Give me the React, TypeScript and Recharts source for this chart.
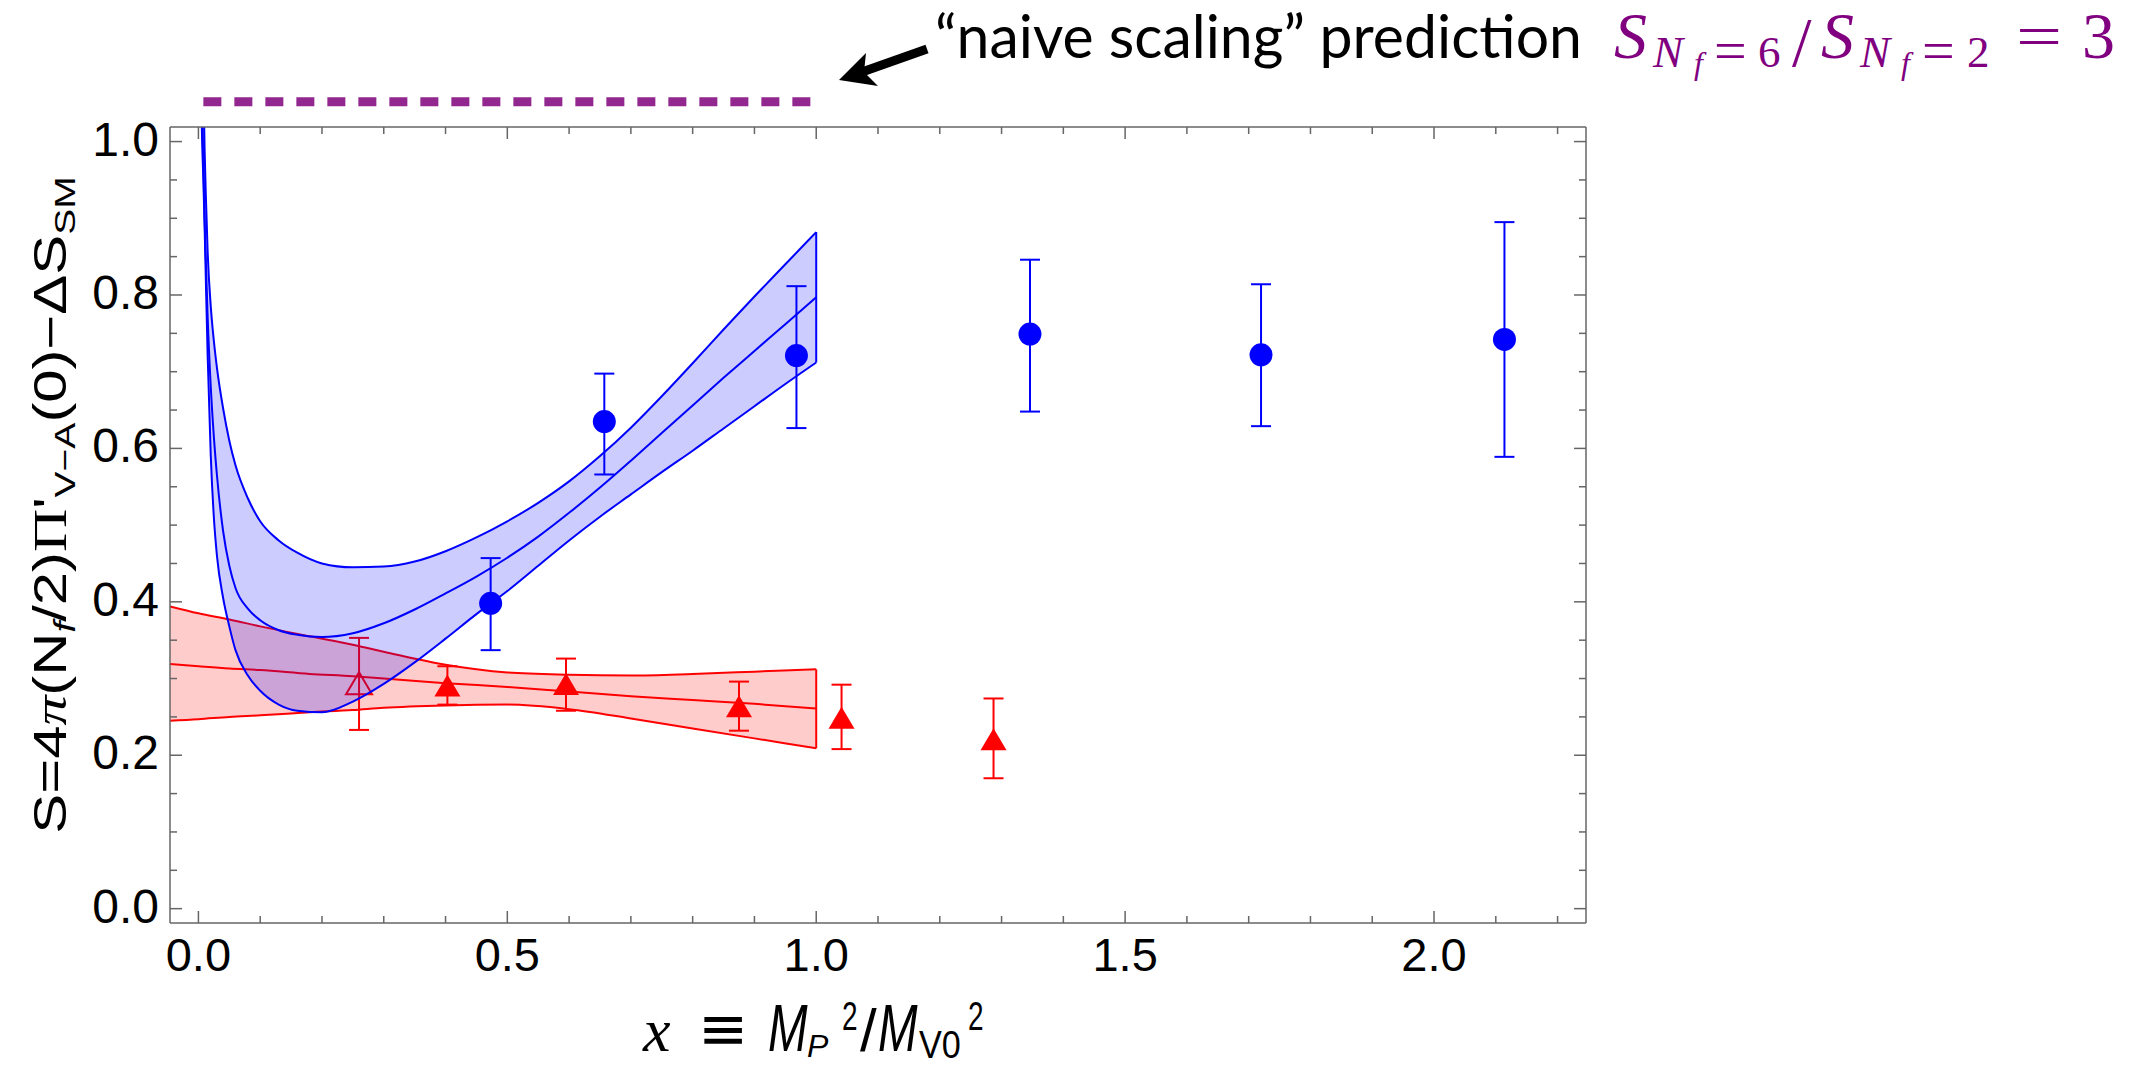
import { ComposedChart, Area, Line, Scatter, XAxis, YAxis, ErrorBar, ReferenceLine } from 'recharts';

// ---- axes ----
const xDomain = [-0.046, 2.246];
const yDomain = [-0.0187, 1.019];
const xTicks = [0, 0.1, 0.2, 0.3, 0.4, 0.5, 0.6, 0.7, 0.8, 0.9, 1, 1.1, 1.2, 1.3, 1.4, 1.5, 1.6, 1.7, 1.8, 1.9, 2, 2.1, 2.2];
const xMajorTicks = [0, 0.5, 1, 1.5, 2];
const xMajorLabels = ['0.0', '0.5', '1.0', '1.5', '2.0'];
const yTicks = [0, 0.05, 0.1, 0.15, 0.2, 0.25, 0.3, 0.35, 0.4, 0.45, 0.5, 0.55, 0.6, 0.65, 0.7, 0.75, 0.8, 0.85, 0.9, 0.95, 1];
const yMajorTicks = [0, 0.2, 0.4, 0.6, 0.8, 1];
const yMajorLabels = ['0.0', '0.2', '0.4', '0.6', '0.8', '1.0'];

// ---- blue fit band (lower / central / upper curves) ----
const blueFitX = [0.004, 0.006, 0.008, 0.01, 0.012, 0.015, 0.02, 0.025, 0.03, 0.04, 0.05, 0.06, 0.08, 0.1, 0.13, 0.16, 0.2, 0.25, 0.3, 0.35, 0.4, 0.45, 0.5, 0.55, 0.6, 0.65, 0.7, 0.75, 0.8, 0.85, 0.9, 0.95, 1.0];
const blueFitLow = [1.08, 1.0, 0.95, 0.89, 0.82, 0.72, 0.59, 0.51, 0.46, 0.405, 0.368, 0.337, 0.304, 0.284, 0.266, 0.258, 0.256, 0.27, 0.293, 0.321, 0.352, 0.384, 0.414, 0.447, 0.48, 0.511, 0.54, 0.569, 0.597, 0.626, 0.655, 0.684, 0.712];
const blueFitMid = [1.2, 1.05, 0.97, 0.9, 0.845, 0.77, 0.68, 0.615, 0.565, 0.492, 0.447, 0.418, 0.391, 0.376, 0.363, 0.357, 0.354, 0.359, 0.372, 0.39, 0.411, 0.433, 0.4575, 0.485, 0.516, 0.549, 0.584, 0.62, 0.656, 0.692, 0.727, 0.762, 0.797];
const blueFitHigh = [1.4, 1.2, 1.08, 0.99, 0.93, 0.855, 0.785, 0.74, 0.705, 0.652, 0.61, 0.578, 0.535, 0.505, 0.48, 0.464, 0.45, 0.445, 0.446, 0.4525, 0.466, 0.484, 0.505, 0.529, 0.557, 0.59, 0.627, 0.668, 0.711, 0.755, 0.798, 0.84, 0.882];

// ---- red fit band ----
const redFitX = [-0.046, 0.0, 0.05, 0.1, 0.18, 0.25, 0.3, 0.4, 0.5, 0.6, 0.7, 0.8, 0.9, 1.0];
const redFitLow = [0.245, 0.247, 0.25, 0.252, 0.256, 0.259, 0.262, 0.265, 0.266, 0.26, 0.248, 0.235, 0.222, 0.209];
const redFitMid = [0.319, 0.316, 0.313, 0.311, 0.306, 0.303, 0.3, 0.294, 0.289, 0.283, 0.277, 0.272, 0.267, 0.261];
const redFitHigh = [0.394, 0.385, 0.377, 0.368, 0.355, 0.344, 0.335, 0.318, 0.308, 0.305, 0.304, 0.306, 0.309, 0.312];

// ---- data points ----
const blueX = [0.473, 0.657, 0.968, 1.346, 1.72, 2.114];
const blueY = [0.398, 0.635, 0.721, 0.749, 0.722, 0.742];
const blueLo = [0.337, 0.566, 0.6265, 0.648, 0.629, 0.589];
const blueHi = [0.457, 0.6975, 0.8115, 0.846, 0.814, 0.895];

const redX = [0.26, 0.403, 0.595, 0.875, 1.041, 1.287];
const redY = [0.294, 0.291, 0.293, 0.264, 0.249, 0.221];
const redLo = [0.233, 0.266, 0.258, 0.232, 0.208, 0.17];
const redHi = [0.353, 0.316, 0.326, 0.296, 0.292, 0.274];
const redOpen = [true, false, false, false, false, false];

// "naive scaling" prediction line
const predX = [0.008, 1.0];
const predY = 1.052;

const BLUE = '#0000ff';
const RED = '#ff0000';
const PURPLE = '#92278f';
const AXIS = '#666666';
const SANS = "'Liberation Sans', Arial, sans-serif";
const SERIF = "'Liberation Serif', 'Times New Roman', serif";

const blueBand = blueFitX.map((x, i) => ({ x, lo: blueFitLow[i], mid: blueFitMid[i], hi: blueFitHigh[i] }));
const redBand = redFitX.map((x, i) => ({ x, lo: redFitLow[i], mid: redFitMid[i], hi: redFitHigh[i] }));
const bluePts = blueX.map((x, i) => ({ x, y: blueY[i], err: [blueY[i] - blueLo[i], blueHi[i] - blueY[i]] }));
const redPts = redX.map((x, i) => ({ x, y: redY[i], open: redOpen[i], err: [redY[i] - redLo[i], redHi[i] - redY[i]] }));
const nb = blueFitX.length - 1;
const nr = redFitX.length - 1;

function BottomTick({ x, y, payload }: any) {
  const i = xMajorTicks.indexOf(payload.value);
  return (
    <g>
      <line x1={x} x2={x} y1={y} y2={y - (i >= 0 ? 12 : 7)} stroke={AXIS} strokeWidth={1.5} />
      {i >= 0 && (
        <text x={x} y={y + 48} textAnchor="middle" fontSize={47} fontFamily={SANS} fill="#000">
          {xMajorLabels[i]}
        </text>
      )}
    </g>
  );
}

function TopTick({ x, y, payload }: any) {
  const major = xMajorTicks.indexOf(payload.value) >= 0;
  return <line x1={x} x2={x} y1={y} y2={y + (major ? 12 : 7)} stroke={AXIS} strokeWidth={1.5} />;
}

function LeftTick({ x, y, payload }: any) {
  const i = yMajorTicks.indexOf(payload.value);
  return (
    <g>
      <line x1={x} x2={x + (i >= 0 ? 12 : 7)} y1={y} y2={y} stroke={AXIS} strokeWidth={1.5} />
      {i >= 0 && (
        <text x={x - 11} y={y + 14} textAnchor="end" fontSize={48} fontFamily={SANS} fill="#000">
          {yMajorLabels[i]}
        </text>
      )}
    </g>
  );
}

function RightTick({ x, y, payload }: any) {
  const major = yMajorTicks.indexOf(payload.value) >= 0;
  return <line x1={x} x2={x - (major ? 12 : 7)} y1={y} y2={y} stroke={AXIS} strokeWidth={1.5} />;
}

const Dot = (p: any) => <circle cx={p.cx} cy={p.cy} r={11.5} fill={BLUE} />;

const Tri = (p: any) => {
  const { cx, cy, payload } = p;
  const pts = `${cx},${cy - 11} ${cx + 13},${cy + 11} ${cx - 13},${cy + 11}`;
  return payload.open
    ? <polygon points={pts} fill="none" stroke={RED} strokeWidth={2} />
    : <polygon points={pts} fill={RED} />;
};

const axisLine = { stroke: AXIS, strokeWidth: 1.5 };

export default function App() {
  return (
    <div style={{ position: 'absolute', left: 0, top: 0, width: 2138, height: 1067, background: '#fff' }}>
      <ComposedChart width={2138} height={1067} margin={{ top: 126, right: 551, bottom: 143, left: 169 }}>
        <XAxis dataKey="x" type="number" domain={xDomain} allowDataOverflow ticks={xTicks} interval={0}
          height={1} tickSize={0} tickMargin={0} tickLine={false} axisLine={axisLine} tick={BottomTick} />
        <XAxis xAxisId="top" orientation="top" dataKey="x" type="number" domain={xDomain} allowDataOverflow ticks={xTicks}
          interval={0} height={1} tickSize={0} tickMargin={0} tickLine={false} axisLine={axisLine} tick={TopTick} />
        <YAxis type="number" domain={yDomain} allowDataOverflow ticks={yTicks} interval={0}
          width={1} tickSize={0} tickMargin={0} tickLine={false} axisLine={axisLine} tick={LeftTick} />
        <YAxis yAxisId="right" orientation="right" type="number" domain={yDomain} allowDataOverflow ticks={yTicks}
          interval={0} width={1} tickSize={0} tickMargin={0} tickLine={false} axisLine={axisLine} tick={RightTick} />

        {/* red band, drawn first so the blue band tints it */}
        <Area data={redBand} dataKey={(d: any) => [d.lo, d.hi]} type="monotone" stroke={RED} strokeWidth={2}
          fill={RED} fillOpacity={0.2} isAnimationActive={false} zIndex={100} />
        <Line data={redBand} dataKey="mid" type="monotone" stroke={RED} strokeWidth={2} dot={false}
          activeDot={false} isAnimationActive={false} zIndex={101} />
        <ReferenceLine segment={[{ x: redFitX[nr], y: redFitLow[nr] }, { x: redFitX[nr], y: redFitHigh[nr] }]}
          stroke={RED} strokeWidth={2} zIndex={101} />
        <Scatter data={redPts} dataKey="y" shape={Tri} isAnimationActive={false} zIndex={102}>
          <ErrorBar dataKey="err" direction="y" width={10} stroke={RED} strokeWidth={2} zIndex={102} />
        </Scatter>

        <Area data={blueBand} dataKey={(d: any) => [d.lo, d.hi]} type="monotone" stroke={BLUE} strokeWidth={2}
          fill={BLUE} fillOpacity={0.2} isAnimationActive={false} zIndex={103} />
        <Line data={blueBand} dataKey="mid" type="monotone" stroke={BLUE} strokeWidth={2} dot={false}
          activeDot={false} isAnimationActive={false} zIndex={104} />
        <ReferenceLine segment={[{ x: blueFitX[nb], y: blueFitLow[nb] }, { x: blueFitX[nb], y: blueFitHigh[nb] }]}
          stroke={BLUE} strokeWidth={2} zIndex={104} />
        <Scatter data={bluePts} dataKey="y" shape={Dot} isAnimationActive={false} zIndex={105}>
          <ErrorBar dataKey="err" direction="y" width={10} stroke={BLUE} strokeWidth={2} zIndex={105} />
        </Scatter>

        <ReferenceLine segment={[{ x: predX[0], y: predY }, { x: predX[1], y: predY }]} ifOverflow="visible"
          stroke={PURPLE} strokeWidth={9} strokeDasharray="18 13" zIndex={110} />
      </ComposedChart>

      <svg width={2138} height={1067} style={{ position: 'absolute', left: 0, top: 0, pointerEvents: 'none' }}>
        {/* arrow */}
        <line x1={927} y1={49} x2={862} y2={72} stroke="#000" strokeWidth={9} />
        <polygon points="839,80 866,53 864,72 878,86" fill="#000" />
        <text x={935} y={58} fontFamily="Lato, 'Open Sans', sans-serif" fontSize={60} fill="#000"
          textLength={647} lengthAdjust="spacingAndGlyphs">“naive scaling” prediction</text>

        {/* S_{Nf=6}/S_{Nf=2} = 3 */}
        <g fill="#800080" fontFamily={SERIF}>
          <text x={1614} y={58} fontSize={66} fontStyle="italic">S</text>
          <text x={1653} y={67} fontSize={45} fontStyle="italic">N</text>
          <text x={1694} y={74} fontSize={32} fontStyle="italic">f</text>
          <text x={1714} y={70} fontSize={58}>=</text>
          <text x={1758} y={67} fontSize={45}>6</text>
          <text x={1792} y={66} fontSize={70}>/</text>
          <text x={1821} y={58} fontSize={66} fontStyle="italic">S</text>
          <text x={1860} y={67} fontSize={45} fontStyle="italic">N</text>
          <text x={1901} y={74} fontSize={32} fontStyle="italic">f</text>
          <text x={1922} y={70} fontSize={58}>=</text>
          <text x={1967} y={67} fontSize={45}>2</text>
          <text transform="translate(2016 57) scale(1.32 1)" fontSize={62}>=</text>
          <text x={2082} y={58} fontSize={66}>3</text>
        </g>

        {/* y axis label */}
        <text transform="translate(66 505) rotate(-90) scale(1.3 1)" textAnchor="middle" fontFamily={SANS} fontSize={46} fill="#000">S=4<tspan fontFamily={SERIF} fontStyle="italic">π</tspan>(N<tspan fontSize={30} dy={9} fontStyle="italic">f</tspan><tspan dy={-9}>/2)</tspan><tspan fontFamily={SERIF}>Π</tspan>'<tspan fontSize={30} dy={9}>V−A</tspan><tspan dy={-9}>(0)−ΔS</tspan><tspan fontSize={30} dy={9}>SM</tspan></text>

        {/* x axis label */}
        <g fill="#000">
          <text x={643} y={1051} fontFamily={SERIF} fontStyle="italic" fontSize={62}>x</text>
          <text x={698} y={1049} fontFamily="'DejaVu Sans', sans-serif" fontSize={60}>≡</text>
          <text transform="translate(768 1051) scale(0.72 1)" fontFamily={SANS} fontStyle="italic" fontSize={66}>M</text>
          <text x={807} y={1057} fontFamily={SANS} fontStyle="italic" fontSize={32}>P</text>
          <text transform="translate(842 1030) scale(0.7 1)" fontFamily={SANS} fontSize={40}>2</text>
          <text x={860} y={1051} fontFamily={SANS} fontSize={60}>/</text>
          <text transform="translate(878 1051) scale(0.72 1)" fontFamily={SANS} fontStyle="italic" fontSize={66}>M</text>
          <text transform="translate(919 1058) scale(0.9 1)" fontFamily={SANS} fontSize={38}>V0</text>
          <text transform="translate(968 1030) scale(0.7 1)" fontFamily={SANS} fontSize={40}>2</text>
        </g>
      </svg>
    </div>
  );
}
